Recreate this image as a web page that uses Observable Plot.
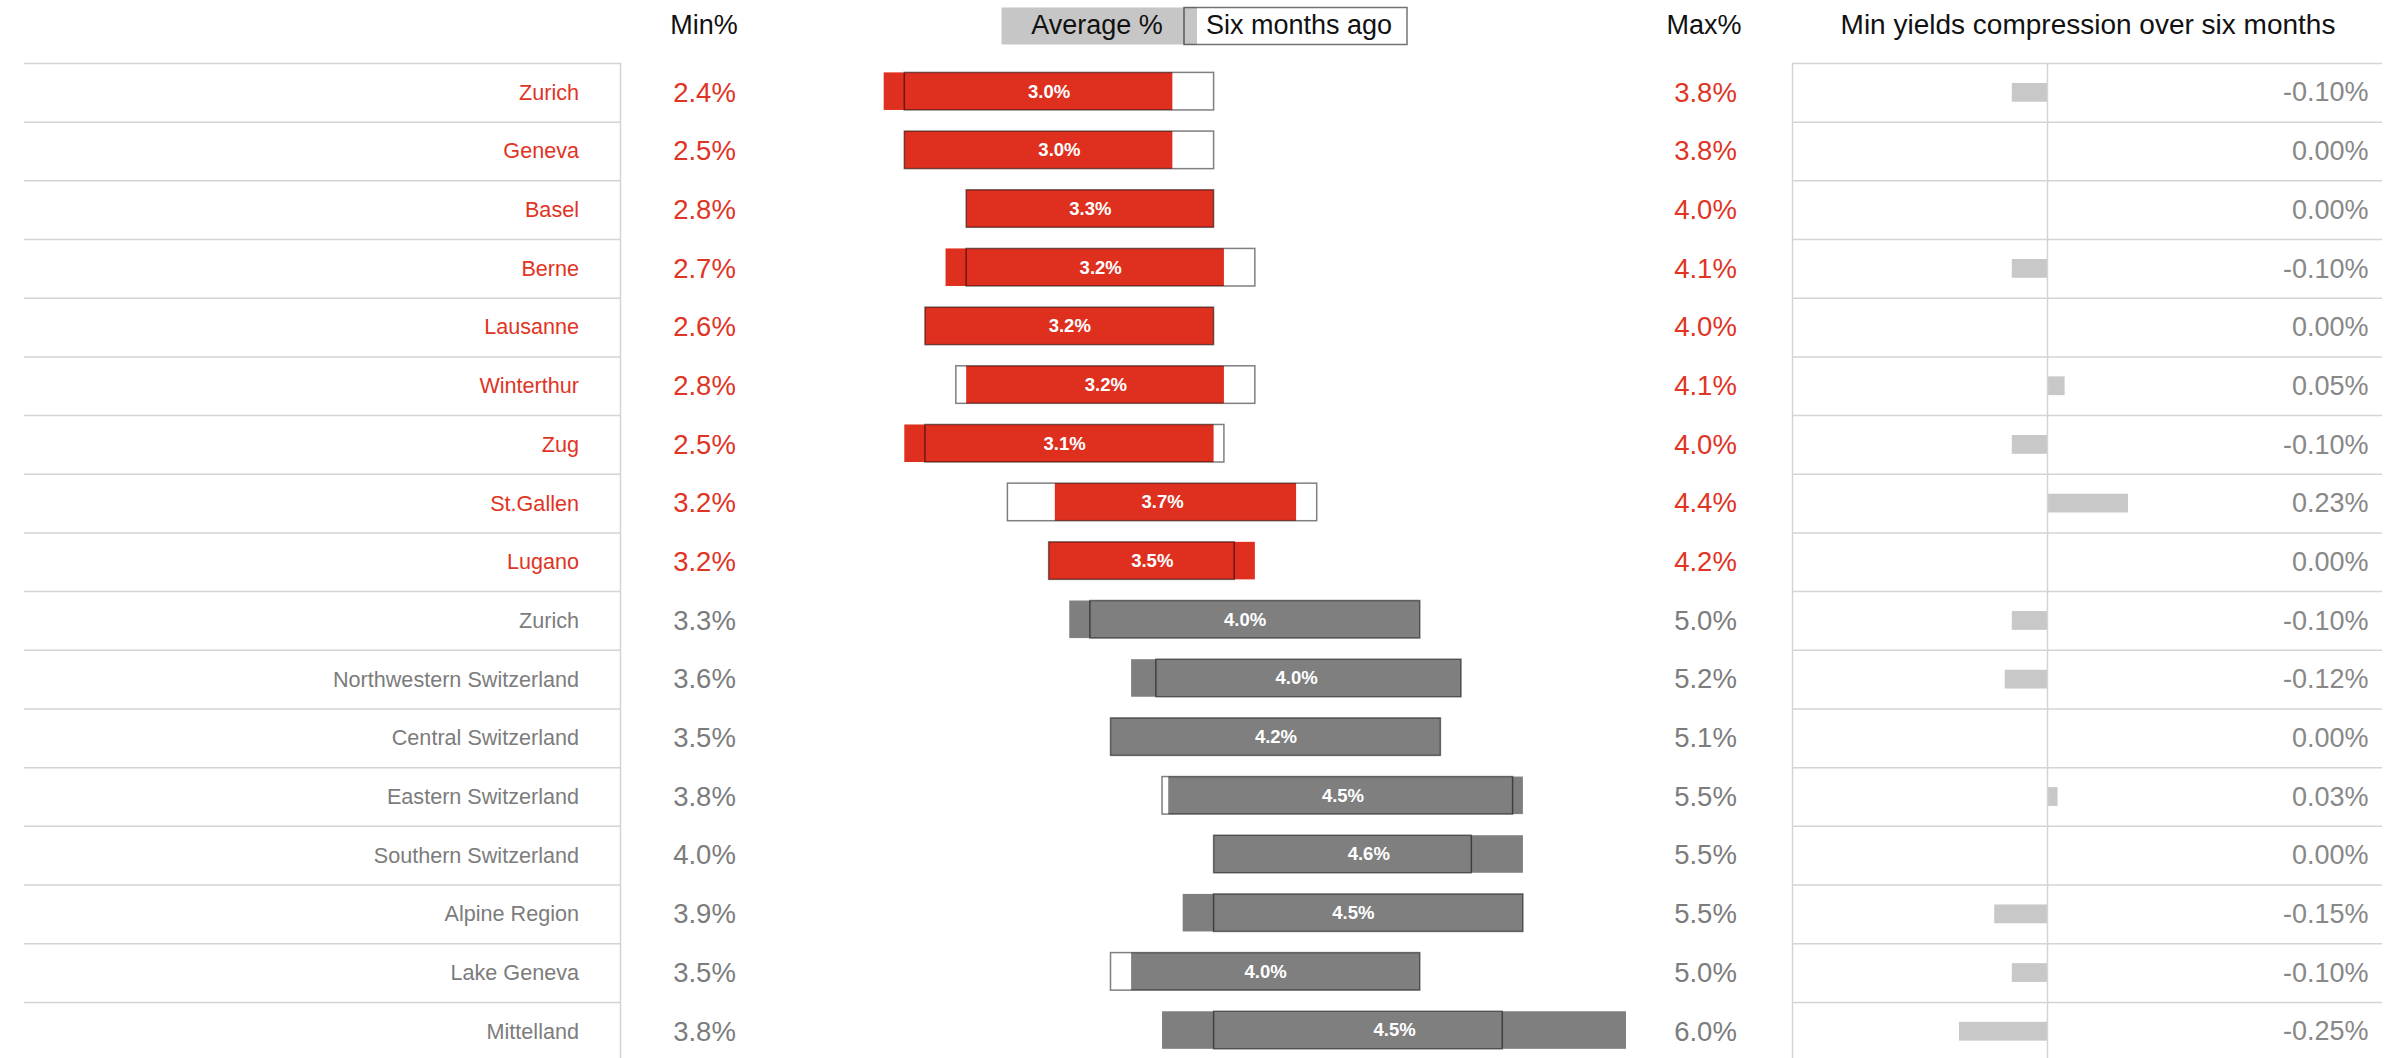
<!DOCTYPE html>
<html><head><meta charset="utf-8">
<script src="https://cdn.jsdelivr.net/npm/d3@7"></script>
<script src="https://cdn.jsdelivr.net/npm/@observablehq/plot@0.6"></script>
<style>
html,body{margin:0;padding:0;background:#fff;overflow:hidden;}
#root{position:relative;width:2406px;height:1058px;overflow:hidden;background:#fff;}
.panel{position:absolute;top:0;}
</style></head><body><div id="root"></div>
<script>
// ---- data ----
const names = ["Zurich","Geneva","Basel","Berne","Lausanne","Winterthur","Zug","St.Gallen","Lugano",
  "Zurich","Northwestern Switzerland","Central Switzerland","Eastern Switzerland","Southern Switzerland",
  "Alpine Region","Lake Geneva","Mittelland"];
const groups = ["city","city","city","city","city","city","city","city","city",
  "region","region","region","region","region","region","region","region"];
const minPct = [2.4,2.5,2.8,2.7,2.6,2.8,2.5,3.2,3.2,3.3,3.6,3.5,3.8,4.0,3.9,3.5,3.8];
const maxPct = [3.8,3.8,4.0,4.1,4.0,4.1,4.0,4.4,4.2,5.0,5.2,5.1,5.5,5.5,5.5,5.0,6.0];
const avgPct = [3.0,3.0,3.3,3.2,3.2,3.2,3.1,3.7,3.5,4.0,4.0,4.2,4.5,4.6,4.5,4.0,4.5];
const minChange = [-0.10,0,0,-0.10,0,0.05,-0.10,0.23,0,-0.10,-0.12,0,0.03,0,-0.15,-0.10,-0.25];
// current range bar (filled) and six-months-ago range bar (outlined)
const nowLow   = [2.4,2.5,2.8,2.7,2.6,2.8,2.5,3.23,3.2,3.3,3.6,3.5,3.78,4.0,3.85,3.6,3.75];
const nowHigh  = [3.8,3.8,4.0,4.05,4.0,4.05,4.0,4.4,4.2,5.0,5.2,5.1,5.5,5.5,5.5,5.0,6.0];
const prevLow  = [2.5,2.5,2.8,2.8,2.6,2.75,2.6,3.0,3.2,3.4,3.72,3.5,3.75,4.0,4.0,3.5,4.0];
const prevHigh = [4.0,4.0,4.0,4.2,4.0,4.2,4.05,4.5,4.1,5.0,5.2,5.1,5.45,5.25,5.5,5.0,5.4];

const headers = {min: "Min%", max: "Max%", change: "Min yields compression over six months",
  legendNow: "Average %", legendPrev: "Six months ago"};

// ---- styles ----
const FONT = '"Liberation Sans", Arial, Helvetica, sans-serif';
const RED = "#de2f1f", RED_TEXT = "#e03424", GREY = "#7f7f7f", GREY_TEXT = "#7c7c7c";
const LINE = "#d4d4d4";
const ROWS = names.length, TOP = 63, STEP = 58.68;
const H = Math.ceil(TOP + ROWS * STEP) + 2;

const rows = names.map((name, i) => ({
  i, name, group: groups[i], min: minPct[i], max: maxPct[i], avg: avgPct[i], chg: minChange[i],
  lo: nowLow[i], hi: nowHigh[i], plo: prevLow[i], phi: prevHigh[i]
}));
const fillOf = d => d.group === "city" ? RED : GREY;
const textOf = d => d.group === "city" ? RED_TEXT : GREY_TEXT;
const yOpt = {domain: [0, ROWS], range: [TOP, TOP + ROWS * STEP], axis: null};
const root = document.getElementById("root");
function place(el, left) { el.classList.add("panel"); el.style.left = left + "px"; root.appendChild(el); }

// left: row labels
const left = Plot.plot({
  width: 621, height: H, marginTop: TOP, marginBottom: 0, marginLeft: 24, marginRight: 1,
  x: {domain: [0, 1], axis: null}, y: yOpt, color: {type: "identity"},
  style: {fontFamily: FONT, background: "transparent", overflow: "visible"},
  marks: [
    Plot.ruleY(d3.range(ROWS + 1), {stroke: LINE, strokeWidth: 1.5}),
    Plot.frame({anchor: "right", stroke: LINE, strokeWidth: 1.5}),
    Plot.text(rows, {x: () => 1, y: d => d.i + 0.5, text: "name", textAnchor: "end", dx: -41.5,
      fill: textOf, fontSize: 21.6})
  ]
});
place(left, 0);

// middle: min, range bars, max
const PX = 206.2, X0ABS = 388.8, MW = 1172, MLEFT = 620;
const mid = Plot.plot({
  width: MW, height: H, marginTop: TOP, marginBottom: 0, marginLeft: 0, marginRight: 0,
  x: {domain: [(MLEFT - X0ABS) / PX, (MLEFT + MW - X0ABS) / PX], axis: null}, y: yOpt,
  color: {type: "identity"},
  style: {fontFamily: FONT, background: "transparent", overflow: "visible"},
  marks: [
    Plot.rect(rows, {x1: "lo", x2: "hi", y1: d => d.i + 0.16, y2: d => d.i + 0.80, fill: fillOf}),
    Plot.rect(rows, {x1: "plo", x2: "phi", y1: d => d.i + 0.16, y2: d => d.i + 0.80,
      fill: "none", stroke: "#000", strokeOpacity: 0.5, strokeWidth: 1.5}),
    Plot.text(rows, {x: d => (Math.min(d.lo, d.plo) + Math.max(d.hi, d.phi)) / 2, y: d => d.i + 0.48,
      text: d => d.avg.toFixed(1) + "%", fill: "#fff", fontWeight: "bold", fontSize: 18.5}),
    Plot.text(rows, {frameAnchor: "left", dx: 84, textAnchor: "middle", y: d => d.i + 0.5,
      text: d => d.min.toFixed(1) + "%", fill: textOf, fontSize: 27.5}),
    Plot.text(rows, {frameAnchor: "left", dx: 1085, textAnchor: "middle", y: d => d.i + 0.5,
      text: d => d.max.toFixed(1) + "%", fill: textOf, fontSize: 27.5})
  ]
});
place(mid, MLEFT);

// right: compression bars
const CPX = 352, ZERO = 255, CW = 590;
const right = Plot.plot({
  width: 615, height: H, marginTop: TOP, marginBottom: 0, marginLeft: 1, marginRight: 24,
  x: {domain: [-ZERO / CPX, (CW - ZERO) / CPX], axis: null}, y: yOpt, color: {type: "identity"},
  style: {fontFamily: FONT, background: "transparent", overflow: "visible"},
  marks: [
    Plot.ruleY(d3.range(ROWS + 1), {stroke: LINE, strokeWidth: 1.5}),
    Plot.frame({anchor: "left", stroke: LINE, strokeWidth: 1.5}),
    Plot.rect(rows, {x1: () => 0, x2: "chg", y1: d => d.i + 0.34, y2: d => d.i + 0.66, fill: "#c8c8c8"}),
    Plot.ruleX([0], {stroke: LINE, strokeWidth: 1.5}),
    Plot.text(rows, {frameAnchor: "right", dx: -14, y: d => d.i + 0.5, textAnchor: "end",
      text: d => d.chg.toFixed(2) + "%", fill: "#888", fontSize: 27})
  ]
});
place(right, 1791);

// headers + legend
const hdr = d3.create("svg").attr("width", 2406).attr("height", 60)
  .style("position", "absolute").style("left", "0px").style("top", "0px")
  .style("font-family", FONT);
[[704, headers.min, 27], [1704, headers.max, 27], [2088, headers.change, 28]].forEach(([x, t, s]) =>
  hdr.append("text").attr("x", x).attr("y", 34).attr("text-anchor", "middle")
    .attr("font-size", s).attr("fill", "#111").text(t));
hdr.append("rect").attr("x", 1001.5).attr("y", 7.5).attr("width", 195.5).attr("height", 37).attr("fill", "#c6c6c6");
hdr.append("rect").attr("x", 1197).attr("y", 7.5).attr("width", 210).attr("height", 37).attr("fill", "#fff");
hdr.append("rect").attr("x", 1184).attr("y", 7.5).attr("width", 223).attr("height", 37).attr("fill", "none")
  .attr("stroke", "#000").attr("stroke-opacity", 0.55).attr("stroke-width", 1.5);
hdr.append("text").attr("x", 1097).attr("y", 33.5).attr("text-anchor", "middle").attr("font-size", 27)
  .attr("fill", "#111").text(headers.legendNow);
hdr.append("text").attr("x", 1299).attr("y", 33.5).attr("text-anchor", "middle").attr("font-size", 27)
  .attr("fill", "#111").text(headers.legendPrev);
root.appendChild(hdr.node());
</script>
</body></html>
